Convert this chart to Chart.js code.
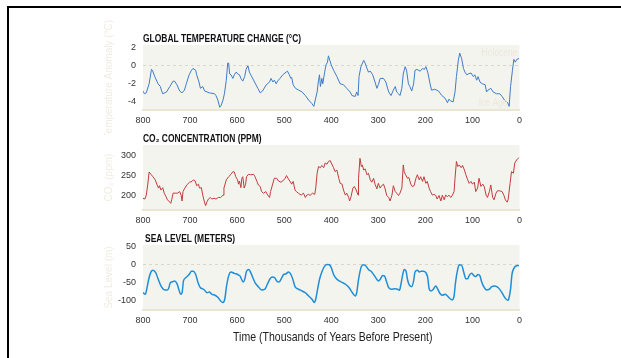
<!DOCTYPE html>
<html>
<head>
<meta charset="utf-8">
<script src="https://cdn.jsdelivr.net/npm/chart.js@4.4.0/dist/chart.umd.min.js"></script>
<style>
  html, body { margin: 0; padding: 0; background: #fff; width: 621px; height: 358px; overflow: hidden; position: relative; }
  .frame { position: absolute; left: 7px; top: 6px; width: 640px; height: 380px; border-top: 2px solid #000; border-left: 2px solid #000; }
  .panel { position: absolute; left: 0; width: 621px; }
  .panel canvas { display: block; }
</style>
</head>
<body>
<div class="frame"></div>
<div class="panel"><canvas id="tempChart"></canvas></div>
<div class="panel"><canvas id="co2Chart"></canvas></div>
<div class="panel"><canvas id="seaChart"></canvas></div>
<script>
const FONT = "'Liberation Sans', Arial, sans-serif";

// Shared time axis (thousands of years before present)
const ageTicks = [800, 700, 600, 500, 400, 300, 200, 100, 0];

// Global temperature change (°C)
const tempAge = [800, 797, 793, 787, 782, 780, 775, 768, 763, 761, 758, 750, 743, 736, 733, 728, 722, 717, 712, 708,
  702, 697, 694, 688, 686, 681, 678, 673, 669, 659, 648, 645, 641, 637, 634, 630, 627, 623, 620, 618,
  616, 613, 609, 606, 602, 599, 595, 592, 588, 584, 581, 577, 574, 570, 563, 556, 551, 546, 538, 531,
  528, 524, 521, 517, 514, 509, 503, 496, 493, 489, 486, 484, 481, 476, 469, 462, 455, 448, 441, 437,
  434, 430, 427, 425, 423, 420, 418, 414, 411, 408, 406, 403, 400, 395, 388, 381, 374, 367, 360, 356,
  349, 346, 343, 341, 337, 331, 328, 324, 321, 317, 312, 307, 303, 300, 296, 289, 284, 278, 273, 268,
  264, 261, 257, 254, 250, 247, 243, 240, 236, 233, 229, 225, 222, 218, 211, 206, 202, 199, 195, 190,
  187, 180, 172, 165, 158, 153, 150, 146, 141, 137, 134, 130, 127, 123, 119, 116, 112, 109, 103, 98,
  95, 91, 88, 84, 79, 73, 70, 67, 61, 56, 49, 42, 37, 32, 25, 22, 19, 15, 12, 9, 6, 1];
const tempValue = [-2.8, -3.1, -3.0, -2.0, -0.4, -0.5, -1.2, -2.0, -2.3, -2.7, -3.1, -2.9, -2.3, -1.7, -1.7, -2.1, -2.8, -3.0, -2.7, -2.0,
  -1.0, -0.5, -0.3, -0.5, -1.0, -1.8, -2.5, -2.3, -2.8, -3.0, -3.1, -3.3, -3.8, -4.6, -4.4, -3.8, -3.1, -1.6, 0.3, 0.3,
  -0.9, -1.0, -1.4, -1.0, -0.7, -0.9, -1.0, -1.4, -1.7, -1.2, -0.4, 0.0, -0.7, -1.1, -1.8, -2.5, -3.0, -2.8, -2.1, -1.8,
  -1.4, -1.8, -1.6, -2.0, -1.7, -1.4, -1.0, -0.7, -0.6, -1.0, -1.4, -1.3, -2.1, -2.5, -2.7, -2.9, -3.3, -3.8, -4.2, -4.5,
  -3.8, -2.9, -1.6, -1.0, -2.3, -1.4, -2.0, -0.7, 0.1, 0.4, 1.1, 0.6, 0.1, -0.5, -1.2, -2.0, -2.1, -2.5, -2.9, -3.3,
  -3.4, -2.9, -3.3, -1.2, -0.1, 0.6, 0.3, -0.3, -0.7, -0.6, -1.0, -1.8, -2.5, -2.1, -1.4, -1.4, -1.8, -2.9, -3.3, -2.7,
  -2.3, -2.9, -3.1, -3.3, -2.5, -0.9, -0.1, -0.5, -2.0, -2.3, -2.8, -2.0, -0.5, -0.4, -0.6, -0.3, -0.4, -0.1, -0.7, -2.0,
  -2.7, -2.6, -2.8, -3.3, -3.6, -4.1, -3.7, -3.9, -4.0, -2.9, -1.2, 0.6, 1.4, 0.8, -0.3, -0.7, -1.0, -0.9, -0.8, -1.2,
  -1.0, -1.6, -1.2, -1.8, -2.0, -2.1, -2.9, -2.7, -2.5, -2.9, -3.1, -3.1, -3.4, -3.8, -4.1, -4.5, -2.3, -0.5, 0.7, 0.4, 0.7, 0.8];
const tempTicks = [2, 0, -2, -4];

// CO2 concentration (ppm)
const co2Age = [800, 796, 793, 790, 787, 783, 779, 774, 770, 767, 765, 762, 758, 755, 751, 748, 743, 741, 739, 736,
  731, 727, 722, 719, 717, 715, 712, 707, 701, 696, 693, 689, 686, 682, 680, 676, 673, 670, 667, 664,
  661, 657, 654, 649, 645, 640, 635, 630, 628, 623, 618, 613, 609, 606, 603, 599, 597, 595, 592, 590,
  588, 585, 582, 580, 576, 571, 565, 562, 558, 555, 551, 548, 544, 539, 535, 531, 529, 525, 521, 516,
  512, 507, 503, 498, 495, 491, 488, 484, 481, 477, 474, 470, 464, 459, 455, 452, 448, 445, 440, 435,
  433, 430, 427, 423, 420, 416, 413, 409, 406, 402, 400, 395, 392, 388, 384, 381, 377, 374, 370, 367,
  363, 361, 358, 354, 351, 347, 343, 342, 339, 336, 334, 331, 328, 324, 321, 317, 314, 310, 307, 303,
  300, 296, 293, 289, 286, 282, 278, 275, 271, 268, 264, 261, 257, 254, 250, 247, 245, 242, 238, 235,
  231, 228, 224, 220, 217, 213, 210, 206, 203, 199, 196, 192, 189, 185, 182, 178, 175, 171, 167, 164,
  160, 157, 153, 150, 146, 143, 139, 137, 134, 131, 128, 124, 121, 117, 114, 110, 107, 103, 100, 96,
  93, 89, 86, 82, 78, 75, 71, 68, 64, 61, 57, 54, 50, 47, 42, 37, 33, 30, 26, 24,
  20, 17, 13, 10, 6, 1];
const co2Value = [192, 190, 200, 226, 259, 253, 247, 239, 226, 218, 224, 213, 219, 205, 196, 188, 182, 179, 188, 205,
  205, 205, 209, 200, 185, 209, 216, 226, 233, 235, 239, 236, 224, 228, 218, 219, 200, 185, 173, 183,
  190, 194, 190, 192, 190, 194, 194, 200, 218, 239, 247, 253, 260, 259, 247, 239, 228, 236, 219, 243,
  247, 218, 228, 247, 253, 252, 253, 247, 235, 226, 222, 209, 205, 209, 200, 194, 209, 226, 243, 243,
  236, 233, 236, 243, 250, 241, 236, 228, 235, 213, 209, 205, 200, 205, 194, 200, 202, 199, 205, 202,
  218, 256, 273, 270, 276, 270, 282, 279, 286, 288, 282, 270, 260, 264, 243, 230, 228, 213, 200, 205,
  194, 185, 196, 218, 222, 213, 200, 243, 294, 273, 277, 264, 267, 252, 256, 239, 233, 243, 228, 216,
  230, 218, 224, 228, 218, 199, 194, 185, 200, 224, 209, 205, 199, 205, 218, 277, 260, 252, 243, 245,
  228, 222, 224, 243, 252, 239, 247, 235, 247, 230, 235, 218, 209, 200, 202, 199, 190, 199, 185, 200,
  188, 200, 196, 200, 194, 199, 209, 243, 286, 273, 277, 270, 276, 264, 252, 239, 230, 235, 228, 233,
  209, 218, 243, 222, 228, 222, 200, 194, 209, 226, 194, 188, 205, 211, 211, 209, 199, 188, 182, 190,
  230, 260, 256, 282, 290, 296];
const co2Ticks = [300, 250, 200];

// Sea level (m)
const seaAge = [800, 795, 792, 788, 783, 779, 773, 768, 761, 754, 748, 745, 742, 738, 733, 728, 724, 720, 717, 714,
  709, 702, 697, 693, 688, 683, 678, 673, 669, 664, 659, 654, 647, 640, 635, 630, 626, 623, 618, 613,
  606, 599, 594, 587, 584, 580, 575, 571, 565, 561, 555, 548, 541, 536, 530, 525, 520, 516, 511, 505,
  501, 496, 491, 487, 482, 477, 471, 462, 455, 448, 441, 436, 433, 429, 425, 420, 414, 409, 404, 400,
  395, 389, 383, 376, 369, 362, 355, 349, 346, 342, 336, 331, 326, 321, 314, 308, 303, 300, 296, 291,
  287, 283, 278, 273, 264, 259, 255, 252, 248, 245, 241, 238, 234, 229, 225, 222, 217, 213, 209, 204,
  199, 195, 192, 188, 183, 178, 174, 169, 164, 158, 153, 148, 143, 139, 136, 131, 128, 123, 119, 114,
  110, 107, 102, 97, 93, 88, 84, 81, 76, 70, 64, 59, 52, 45, 38, 31, 25, 23, 19, 16,
  11, 8, 1];
const seaValue = [-79, -83, -69, -42, -21, -16, -23, -40, -62, -71, -71, -65, -51, -49, -46, -53, -69, -83, -79, -46,
  -37, -28, -19, -19, -28, -51, -65, -68, -72, -79, -77, -83, -86, -93, -102, -106, -95, -65, -32, -21,
  -25, -28, -32, -49, -42, -19, -14, -23, -42, -53, -62, -71, -69, -56, -40, -35, -37, -46, -49, -37,
  -28, -26, -21, -25, -40, -62, -68, -74, -79, -88, -97, -106, -97, -69, -42, -21, -5, 0, -1, -9,
  -28, -40, -46, -51, -56, -65, -79, -88, -79, -42, -6, -1, -5, -14, -21, -32, -42, -46, -42, -31,
  -32, -46, -65, -69, -68, -69, -72, -56, -28, -14, -19, -42, -58, -62, -46, -21, -16, -21, -19, -19,
  -23, -37, -68, -74, -69, -60, -68, -81, -86, -83, -88, -95, -99, -88, -51, -12, -1, -2, -19, -40,
  -40, -31, -25, -31, -34, -28, -32, -46, -62, -71, -69, -62, -60, -65, -77, -93, -100, -97, -69, -28,
  -9, -5, -3];
const seaTicks = [50, 0, -50, -100];

// Draws text squeezed horizontally, giving a condensed typeface look
function narrowText(ctx, text, x, y, squeeze, align) {
  ctx.save();
  ctx.translate(x, y);
  ctx.scale(squeeze, 1);
  ctx.textAlign = align;
  ctx.fillText(text, 0, 0);
  ctx.restore();
}

// Plot background, panel heading, small in-plot notes and the shared time caption
const panelDecor = {
  id: 'panelDecor',
  beforeDraw(chart, args, opts) {
    const a = chart.chartArea, ctx = chart.ctx;
    ctx.save();
    ctx.fillStyle = '#f4f4ef';
    ctx.fillRect(a.left, a.top, a.right - a.left, a.bottom - a.top);
    ctx.restore();
  },
  afterDraw(chart, args, opts) {
    const a = chart.chartArea, ctx = chart.ctx;
    ctx.save();
    ctx.textBaseline = 'alphabetic';
    ctx.fillStyle = '#111';
    ctx.font = 'bold 10px ' + FONT;
    narrowText(ctx, opts.heading, a.left + (opts.headingDx || 0), a.top - 3.5, 0.845, 'left');
    (opts.notes || []).forEach(n => {
      ctx.font = '10px ' + FONT;
      ctx.fillStyle = '#ebe7da';
      narrowText(ctx, n.text, a.right + n.dx, a.top + n.dy, 0.85, 'right');
    });
    if (opts.caption) {
      ctx.font = '13px ' + FONT;
      ctx.fillStyle = '#222';
      ctx.textBaseline = 'middle';
      narrowText(ctx, opts.caption, (a.left + a.right) / 2 + 1.5, a.bottom + opts.captionDy, 0.81, 'center');
    }
    ctx.restore();
  }
};

function buildPanel(id, box, series, y, decor) {
  const cv = document.getElementById(id);
  cv.width = 621;
  cv.height = box.height;
  cv.parentNode.style.top = (box.plotTop - 25) + 'px';
  const xAxisHeight = box.height - 25 - (box.plotBottom - box.plotTop);
  return new Chart(cv, {
    type: 'line',
    data: {
      datasets: [{
        data: series.ages.map((a, i) => ({ x: a, y: series.values[i] })),
        borderColor: series.color,
        borderWidth: series.width,
        pointRadius: 0,
        tension: series.tension,
        cubicInterpolationMode: series.monotone ? 'monotone' : 'default',
        fill: false
      }]
    },
    options: {
      responsive: false,
      animation: false,
      events: [],
      layout: { padding: { left: 100, right: 101.5, top: 25, bottom: 0 } },
      plugins: {
        legend: { display: false },
        tooltip: { enabled: false },
        title: { display: false },
        panelDecor: decor
      },
      scales: {
        x: {
          type: 'linear',
          reverse: true,
          min: 0,
          max: 800,
          afterBuildTicks: s => { s.ticks = ageTicks.map(v => ({ value: v })); },
          afterFit: s => { s.height = xAxisHeight; },
          grid: { display: true, color: 'rgba(0,0,0,0)', drawTicks: false },
          border: { display: true, color: '#ebe5d3', width: 2 },
          ticks: { padding: 5, color: '#333', font: { family: FONT, size: 9 }, maxRotation: 0, autoSkip: false }
        },
        y: {
          min: y.min,
          max: y.max,
          afterBuildTicks: s => { s.ticks = y.ticks.map(v => ({ value: v })); },
          afterFit: s => { s.width = 43; },
          grid: {
            display: true,
            drawTicks: false,
            lineWidth: 1,
            color: c => (y.zeroLine && c.tick && c.tick.value === 0) ? '#d9d7cc' : 'rgba(0,0,0,0)'
          },
          border: { display: false, dash: [3, 3] },
          ticks: { padding: 7, color: '#333', font: { family: FONT, size: 9 } },
          title: {
            display: true,
            text: y.title,
            color: '#f0ece1',
            font: { family: FONT, size: 10 },
            padding: { top: 3, bottom: 0 }
          }
        }
      }
    },
    plugins: [panelDecor]
  });
}

buildPanel('tempChart',
  { plotTop: 45, plotBottom: 110, height: 115 },
  { ages: tempAge, values: tempValue, color: '#3f7cc6', width: 1, tension: 0 },
  { min: -4.9, max: 2.3, ticks: tempTicks, zeroLine: true, title: 'Temperature Anomaly (°C))' },
  { heading: 'GLOBAL TEMPERATURE CHANGE (°C)', notes: [
    { text: 'Holocene', dx: -2, dy: 11 },
    { text: 'Ice Age', dx: -12, dy: 61 }
  ] });

buildPanel('co2Chart',
  { plotTop: 145, plotBottom: 210, height: 110 },
  { ages: co2Age, values: co2Value, color: '#c23c3e', width: 1, tension: 0 },
  { min: 162, max: 328, ticks: co2Ticks, zeroLine: false, title: 'CO₂ (ppm)' },
  { heading: 'CO₂ CONCENTRATION (PPM)' });

buildPanel('seaChart',
  { plotTop: 245, plotBottom: 310, height: 138 },
  { ages: seaAge, values: seaValue, color: '#1f8ed6', width: 1.5, tension: 0.4, monotone: true },
  { min: -127, max: 54, ticks: seaTicks, zeroLine: true, title: 'Sea Level (m)' },
  { heading: 'SEA LEVEL (METERS)', headingDx: 2,
    caption: 'Time (Thousands of Years Before Present)', captionDy: 27 });
</script>
</body>
</html>
